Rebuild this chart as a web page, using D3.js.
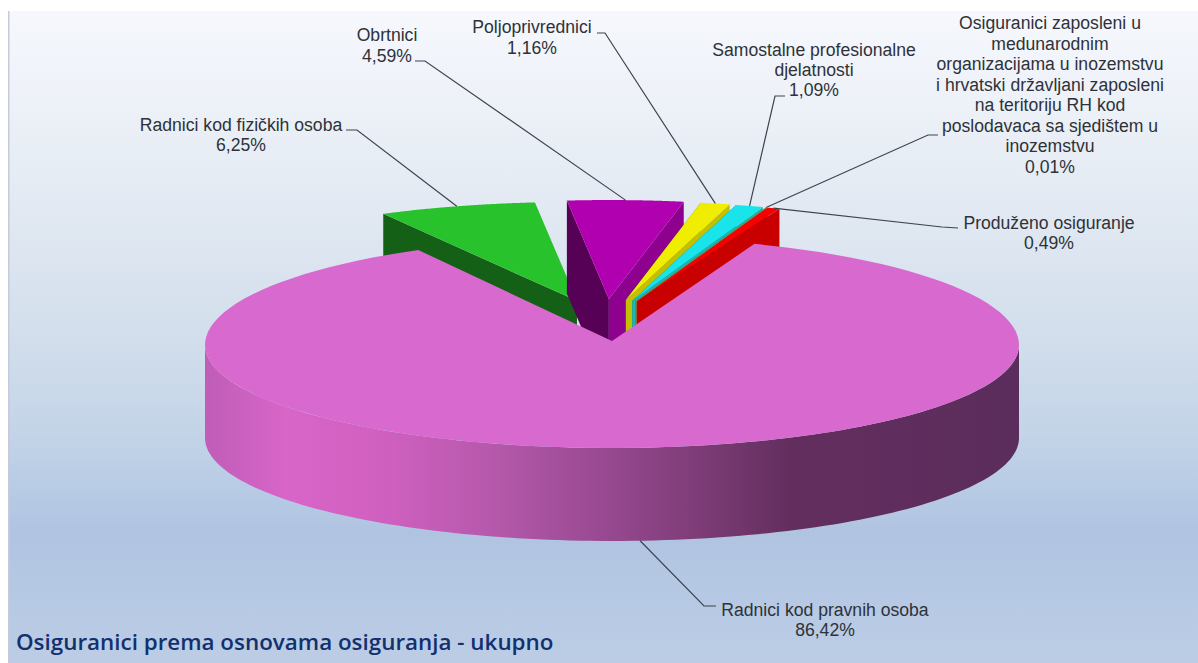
<!DOCTYPE html>
<html>
<head>
<meta charset="utf-8">
<script src="https://d3js.org/d3.v7.min.js"></script>
<style>
  html, body { margin: 0; background: #fff; }
  svg { display: block; }
  text { font-family: "Liberation Sans", Arial, sans-serif; }
</style>
</head>
<body>
<script>
const categories = [
  'Radnici kod pravnih osoba',
  'Radnici kod fizičkih osoba',
  'Obrtnici',
  'Poljoprivrednici',
  'Samostalne profesionalne djelatnosti',
  'Osiguranici zaposleni u međunarodnim organizacijama',
  'Produženo osiguranje'
]
const shares = [86.42, 6.25, 4.59, 1.16, 1.09, 0.01, 0.49]
const shareLabels = ['86,42%', '6,25%', '4,59%', '1,16%', '1,09%', '0,01%', '0,49%']
const colors = ['#d769cf', '#28c32c', '#b000b0', '#f0ee00', '#19e4ea', '#9fb35a', '#f80000']
const labelLines = [
  ['Radnici kod pravnih osoba'],
  ['Radnici kod fizičkih osoba'],
  ['Obrtnici'],
  ['Poljoprivrednici'],
  ['Samostalne profesionalne', 'djelatnosti'],
  ['Osiguranici zaposleni u', 'medunarodnim', 'organizacijama u inozemstvu', 'i hrvatski državljani zaposleni', 'na teritoriju RH kod', 'poslodavaca sa sjedištem u', 'inozemstvu'],
  ['Produženo osiguranje']
]
const titleText = 'Osiguranici prema osnovama osiguranja - ukupno'

const width = 1198
const height = 663
const rad = Math.PI / 180

// label placement: centre of the text block, first baseline, and the elbow of the leader
const labelPlace = [
  { x: 825, y: 616, line: 20, elbow: [[716, 606], [704, 606]] },
  { x: 241, y: 131, line: 20, elbow: [[346, 130], [357, 130]] },
  { x: 387, y: 41, line: 21, elbow: [[415, 61], [425, 61]] },
  { x: 532, y: 33, line: 21, elbow: [[597, 33], [605, 33]] },
  { x: 814, y: 56, line: 20, elbow: [[785, 96], [775, 96]] },
  { x: 1050, y: 29, line: 20.5, elbow: [[938, 135], [928, 135]] },
  { x: 1049, y: 229, line: 20, elbow: [[958, 228], [942, 227]] }
]

const svg = d3.select('body').append('svg')
  .attr('width', width)
  .attr('height', height)

const defs = svg.append('defs')

const bg = defs.append('linearGradient')
  .attr('id', 'bg').attr('x1', 0).attr('y1', 0).attr('x2', 0).attr('y2', 1)
bg.selectAll('stop')
  .data([[0, '#f6f8fd'], [0.25, '#e6ecf4'], [0.5, '#d2deec'], [0.65, '#c3d4e8'], [0.8, '#b0c4e2'], [1, '#bccde5']])
  .join('stop')
  .attr('offset', d => d[0])
  .attr('stop-color', d => d[1])

// shading of the big slice rim, left to right
const rim = defs.append('linearGradient')
  .attr('id', 'rim').attr('gradientUnits', 'userSpaceOnUse')
  .attr('x1', 205).attr('y1', 0).attr('x2', 1019).attr('y2', 0)
rim.selectAll('stop')
  .data([[0, '#bf5db8'], [0.1, '#d865c8'], [0.22, '#d060c0'], [0.36, '#b458aa'], [0.5, '#96488f'], [0.6, '#7e3d78'], [0.72, '#632e5e'], [1, '#5b2d5c']])
  .join('stop')
  .attr('offset', d => d[0])
  .attr('stop-color', d => d[1])

svg.append('rect')
  .attr('x', 8).attr('y', 11)
  .attr('width', width - 8).attr('height', height - 11)
  .attr('fill', 'url(#bg)')
svg.append('rect')
  .attr('x', 8).attr('y', 11)
  .attr('width', 1.5).attr('height', height - 11)
  .attr('fill', '#c5cbd8')

const slices = d3.pie().sort(null).value(d => d)
  .startAngle(20.5 * rad)
  .endAngle(380.5 * rad)(shares)

const rx = 407
const cx = 612
const cy = 345
const ryBack = 108
const ryFront = 103
const depth = 93
const apexY = 341
const ryExploded = 99

// exploded pieces slide out mostly towards the back of the picture
const offset = a => [-7 + 95 * Math.sin(a), -42 * Math.cos(a)]

const onMain = a => {
  const v = Math.cos(a)
  return [cx + rx * Math.sin(a), cy - (v > 0 ? ryBack : ryFront) * v]
}

const pieceApex = s => {
  const [dx, dy] = offset((s.startAngle + s.endAngle) / 2)
  return [cx + dx, apexY + dy]
}
const onPiece = (s, a) => {
  const [ax, ay] = pieceApex(s)
  return [ax + rx * Math.sin(a), ay - ryExploded * Math.cos(a)]
}

const sample = (a0, a1, f) => d3.range(0, 1.0001, 1 / 120).map(t => f(a0 + (a1 - a0) * t))
const line = d3.line()
const down = p => [p[0], p[1] + depth]

// back to front: the small pieces first, the big slice covers their lower parts
const chart = svg.append('g')
slices.slice(1).forEach(s => {
  const c = colors[s.index]
  const apex = pieceApex(s)
  const a = onPiece(s, s.startAngle)
  const b = onPiece(s, s.endAngle)
  chart.append('path')
    .attr('d', line([apex, a, down(a), down(apex)]) + 'Z')
    .attr('fill', d3.rgb(c).darker(2))
  if (b[0] > apex[0]) {
    chart.append('path')
      .attr('d', line([apex, b, down(b), down(apex)]) + 'Z')
      .attr('fill', d3.rgb(c).darker(0.6))
  }
  chart.append('path')
    .attr('d', line([apex].concat(sample(s.startAngle, s.endAngle, x => onPiece(s, x)))) + 'Z')
    .attr('fill', c)
})

// big slice: rim then top
const main = slices[0]
const rimTop = sample(90 * rad, 270 * rad, onMain)
chart.append('path')
  .attr('d', line(rimTop.concat(rimTop.map(down).reverse())) + 'Z')
  .attr('fill', 'url(#rim)')
chart.append('path')
  .attr('d', line([[cx, apexY]].concat(sample(main.startAngle, main.endAngle, onMain))) + 'Z')
  .attr('fill', colors[0])

// leaders, from the middle of each slice edge to the elbow next to its label
const leaders = svg.append('g')
  .attr('fill', 'none')
  .attr('stroke', '#3d4450')
  .attr('stroke-width', 1.2)
slices.forEach(s => {
  const mid = (s.startAngle + s.endAngle) / 2
  const end = s.index === 0 ? down(onMain(mid)) : onPiece(s, mid)
  const [near, far] = labelPlace[s.index].elbow
  leaders.append('path').attr('d', line([near, far, end]))
})

// labels
const labels = svg.append('g')
  .attr('text-anchor', 'middle')
  .attr('font-size', 17.6)
  .attr('fill', '#2e3238')
slices.forEach(s => {
  const place = labelPlace[s.index]
  const t = labels.append('text').attr('x', place.x).attr('y', place.y)
  labelLines[s.index].concat(shareLabels[s.index]).forEach((l, i) => {
    t.append('tspan')
      .attr('x', place.x)
      .attr('dy', i === 0 ? 0 : place.line)
      .text(l)
  })
})

svg.append('text')
  .attr('x', 16).attr('y', 650)
  .attr('font-size', 22.4)
  .attr('font-weight', 600)
  .attr('fill', '#12306e')
  .style('font-family', '"Open Sans", sans-serif')
  .text(titleText)
</script>
</body>
</html>
